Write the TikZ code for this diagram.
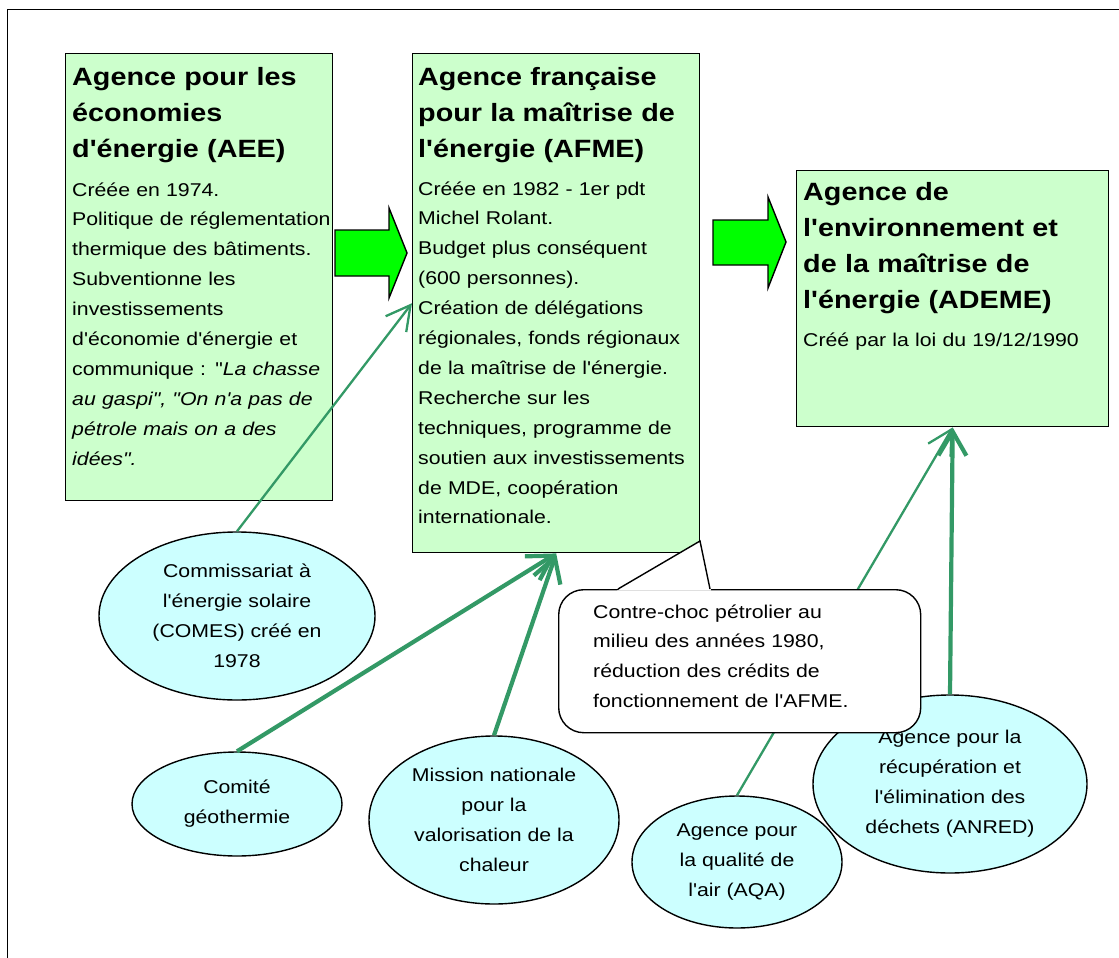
\documentclass[tikz,border=0pt]{standalone}
\usepackage{fontspec}
\setmainfont{Liberation Sans}[FakeStretch=1.15, Ligatures=TeXOff]
\usetikzlibrary{arrows.meta, shapes.geometric}
\definecolor{boxgreen}{HTML}{CCFFCC}
\definecolor{arrgreen}{HTML}{00FF00}
\definecolor{ellcyan}{HTML}{CCFFFF}
\definecolor{conncol}{HTML}{339966}
\begin{document}
\begin{tikzpicture}[x=1pt,y=-1pt,
  box/.style={draw=black, line width=1.4pt, fill=boxgreen, anchor=north west, inner sep=0},
  ttl/.style={anchor=base west, inner sep=0, text width=295pt, align=left, font=\fontsize{25}{36}\selectfont\bfseries},
  bod/.style={anchor=base west, inner sep=0, text width=295pt, align=left, font=\fontsize{18.5}{29.9}\selectfont},
  ell/.style={ellipse, draw=black, line width=1.4pt, fill=ellcyan, inner sep=0, align=center, font=\fontsize{18.5}{30}\selectfont},
  blockarrow/.style={draw=black, line width=1.4pt, fill=arrgreen, line join=miter},
  thinconn/.style={draw=conncol, line width=2.3pt, -{Straight Barb[length=24pt,width=26pt]}},
  thickconn/.style={draw=conncol, line width=4.2pt, -{Straight Barb[length=24pt,width=28pt]}},
  callout/.style={draw=black, line width=1.4pt, fill=white, rounded corners=25pt, anchor=north west, inner sep=0}
]
\useasboundingbox (0,0) rectangle (1119,958);
% frame
\draw[line width=1.3pt] (1119,9.5) -- (7.5,9.5) -- (7.5,958);

% boxes
\node[box, minimum width=267pt, minimum height=447pt] (b1) at (65,53) {};
\node[box, minimum width=287pt, minimum height=499pt] (b2) at (412,53) {};
\node[box, minimum width=312pt, minimum height=256pt] (b3) at (796,170) {};

\node[ttl] (b1t) at (72,85) {Agence pour les\\économies\\d'énergie (AEE)};
\node[bod] (b1b) at (72,196) {Créée en 1974.\\Politique de réglementation\\thermique des bâtiments.\\Subventionne les\\investissements\\d'économie d'énergie et\\communique : "\textit{La chasse}\\\textit{au gaspi", "On n'a pas de}\\\textit{pétrole mais on a des}\\\textit{idées".}};

\node[ttl] (b2t) at (418,85) {Agence française\\pour la maîtrise de\\l'énergie (AFME)};
\node[bod] (b2b) at (418,195) {Créée en 1982 - 1er pdt\\Michel Rolant.\\Budget plus conséquent\\(600 personnes).\\Création de délégations\\régionales, fonds régionaux\\de la maîtrise de l'énergie.\\Recherche sur les\\techniques, programme de\\soutien aux investissements\\de MDE, coopération\\internationale.};

\node[ttl] (b3t) at (803,200) {Agence de\\l'environnement et\\de la maîtrise de\\l'énergie (ADEME)};
\node[bod] (b3b) at (803,346) {Créé par la loi du 19/12/1990};

% block arrows
\draw[blockarrow] (335,230) -- (389,230) -- (389,208) -- (407,253) -- (389,298) -- (389,276) -- (335,276) -- cycle;
\draw[blockarrow] (713,220) -- (768,220) -- (768,197) -- (786,242) -- (768,288) -- (768,265) -- (713,265) -- cycle;

% ellipses
\node[ell, minimum width=276pt, minimum height=168pt] (e1) at (237,616) {Commissariat à\\l'énergie solaire\\(COMES) créé en\\1978};
\node[ell, minimum width=210pt, minimum height=104pt] (e2) at (237,804) {Comité\\géothermie};
\node[ell, minimum width=250pt, minimum height=168pt] (e3) at (494,820) {Mission nationale\\pour la\\valorisation de la\\chaleur};
\node[ell, minimum width=210pt, minimum height=132pt] (aqa) at (737,862) {Agence pour\\la qualité de\\l'air (AQA)};
\node[ell, minimum width=274pt, minimum height=178pt] (anred) at (950,784) {Agence pour la\\récupération et\\l'élimination des\\déchets (ANRED)};

% connectors
\draw[thinconn] (e1.north) -- (b2.west);
\draw[thickconn] (e2.north) -- (b2.south);
\draw[thickconn] (e3.north) -- (b2.south);
\draw[thinconn] (aqa.north) -- (b3.south);
\draw[thickconn] (anred.north) -- (b3.south);

% callout
\node[callout, minimum width=362pt, minimum height=143pt] (co) at (558,589) {};
\coordinate (tip) at (700,541);
\fill[white] (617,590.6) -- (tip) -- (711,590.6) -- cycle;
\draw[line width=1.4pt, line join=miter] (618,589) -- (tip) -- (710,589);
\node[bod, font=\fontsize{18.5}{29.7}\selectfont] (cot) at (593,618) {Contre-choc pétrolier au\\milieu des années 1980,\\réduction des crédits de\\fonctionnement de l'AFME.};
\end{tikzpicture}
\end{document}
